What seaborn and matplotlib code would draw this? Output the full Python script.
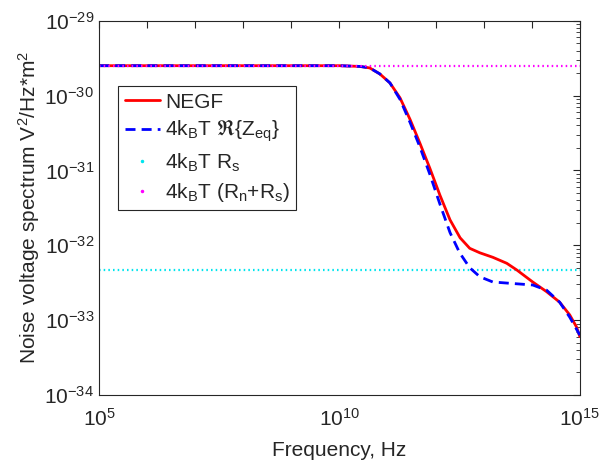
import numpy as np
import pandas as pd
import matplotlib
matplotlib.use("Agg")
import matplotlib.pyplot as plt
import seaborn as sns
from matplotlib.lines import Line2D
from matplotlib.ticker import LogLocator, NullFormatter, FixedLocator

sns.set_theme(style="white")
plt.rcParams['font.family'] = ['Liberation Sans', 'DejaVu Sans']
plt.rcParams['mathtext.fontset'] = 'custom'
plt.rcParams['mathtext.rm'] = 'Liberation Sans'
plt.rcParams['mathtext.it'] = 'Liberation Sans'
plt.rcParams['mathtext.default'] = 'regular'

# log10(frequency) and log10(spectrum)
negf_logf = [5.0, 8.0, 10.0, 10.43, 10.63, 10.84, 11.05, 11.26, 11.47, 11.67, 11.88, 12.09,
             12.30, 12.51, 12.71, 12.92, 13.19, 13.48, 13.69, 14.02, 14.31, 14.58, 14.79,
             14.93, 15.0]
negf_logS = [-29.60, -29.60, -29.60, -29.61, -29.63, -29.71, -29.83, -30.03, -30.32, -30.63,
             -30.97, -31.33, -31.66, -31.90, -32.04, -32.10, -32.16, -32.24, -32.33, -32.49,
             -32.62, -32.76, -32.93, -33.09, -33.22]
zeq_logf = [5.0, 8.0, 10.0, 10.43, 10.63, 10.84, 11.05, 11.26, 11.47, 11.67, 11.88, 12.09,
            12.30, 12.50, 12.71, 12.92, 13.19, 13.60, 14.02, 14.31, 14.58, 14.79, 14.93, 15.0]
zeq_logS = [-29.60, -29.60, -29.60, -29.61, -29.63, -29.71, -29.83, -30.05, -30.36, -30.68,
            -31.05, -31.45, -31.83, -32.10, -32.30, -32.42, -32.49, -32.51, -32.53, -32.60,
            -32.76, -32.96, -33.12, -33.20]
rs_level = 4.7e-33
rnrs_level = 2.5e-30
x_range = [1e5, 1e15]

df_negf = pd.DataFrame({"f": 10.0 ** np.array(negf_logf), "S": 10.0 ** np.array(negf_logS)})
df_zeq = pd.DataFrame({"f": 10.0 ** np.array(zeq_logf), "S": 10.0 ** np.array(zeq_logS)})
df_rs = pd.DataFrame({"f": x_range, "S": [rs_level, rs_level]})
df_rnrs = pd.DataFrame({"f": x_range, "S": [rnrs_level, rnrs_level]})

fig = plt.figure(figsize=(6.04, 4.62), dpi=100)
ax = fig.add_axes([0.164, 0.145, 0.796, 0.810])
ax.set_xscale('log')
ax.set_yscale('log')

dot = (0, (0.7, 1.4))
sns.lineplot(data=df_rs, x="f", y="S", ax=ax, color='#00e5ee', lw=1.6,
             linestyle=dot, legend=False)
sns.lineplot(data=df_negf, x="f", y="S", ax=ax, color='#ff0000', lw=2.0, legend=False)
sns.lineplot(data=df_zeq, x="f", y="S", ax=ax, color='#0000ff', lw=2.0,
             linestyle=(0, (3.6, 2.2)), legend=False)
sns.lineplot(data=df_rnrs, x="f", y="S", ax=ax, color='#ff00ff', lw=1.6,
             linestyle=dot, legend=False)

ax.set_xlim(1e5, 1e15)
ax.set_ylim(1e-34, 1e-29)

ax.xaxis.set_major_locator(FixedLocator([10.0 ** k for k in range(5, 16)]))
ax.set_xticklabels(['$10^{5}$' if k == 5 else '$10^{10}$' if k == 10 else '$10^{15}$' if k == 15 else ''
                    for k in range(5, 16)])
ax.xaxis.set_minor_locator(FixedLocator([]))
ax.yaxis.set_major_locator(FixedLocator([10.0 ** k for k in range(-34, -28)]))
ax.set_yticklabels(['$10^{%d}$' % k for k in range(-34, -28)])
ax.yaxis.set_minor_locator(LogLocator(base=10, subs=np.arange(2, 10), numticks=50))
ax.yaxis.set_minor_formatter(NullFormatter())

edge = '#262626'
for s in ax.spines.values():
    s.set_color(edge)
    s.set_linewidth(0.8)
ax.tick_params(which='both', direction='in', top=True, right=True, color=edge,
               labelcolor='#262626', labelsize=15)
ax.tick_params(which='major', length=5, width=0.8)
ax.tick_params(which='minor', length=3, width=0.6)
ax.tick_params(axis='x', pad=9)

ax.set_xlabel('Frequency, Hz', fontsize=15, color='#262626', labelpad=8)
ax.set_ylabel('Noise voltage spectrum V$^2$/Hz*m$^2$', fontsize=15, color='#262626', labelpad=2)

handles = [
    Line2D([], [], color='#ff0000', lw=2.0),
    Line2D([], [], color='#0000ff', lw=2.0, linestyle=(0, (3.6, 2.2))),
    Line2D([], [], color='#00e5ee', ls='none', marker='.', ms=3),
    Line2D([], [], color='#ff00ff', ls='none', marker='.', ms=3),
]
labels = ['NEGF',
          r'4k$_B$T $\Re$$\{$Z$_{eq}$$\}$',
          r'4k$_B$T R$_s$',
          r'4k$_B$T (R$_n$+R$_s$)']
leg = ax.legend(handles, labels, loc='upper left', bbox_to_anchor=(0.04, 0.825),
                fontsize=15, frameon=True, fancybox=False, framealpha=1,
                edgecolor='#262626', borderpad=0.3, handlelength=1.7,
                handletextpad=0.25, labelspacing=0.35, borderaxespad=0)
leg.get_frame().set_linewidth(0.8)

fig.savefig('out.png', dpi=100, facecolor='white')
